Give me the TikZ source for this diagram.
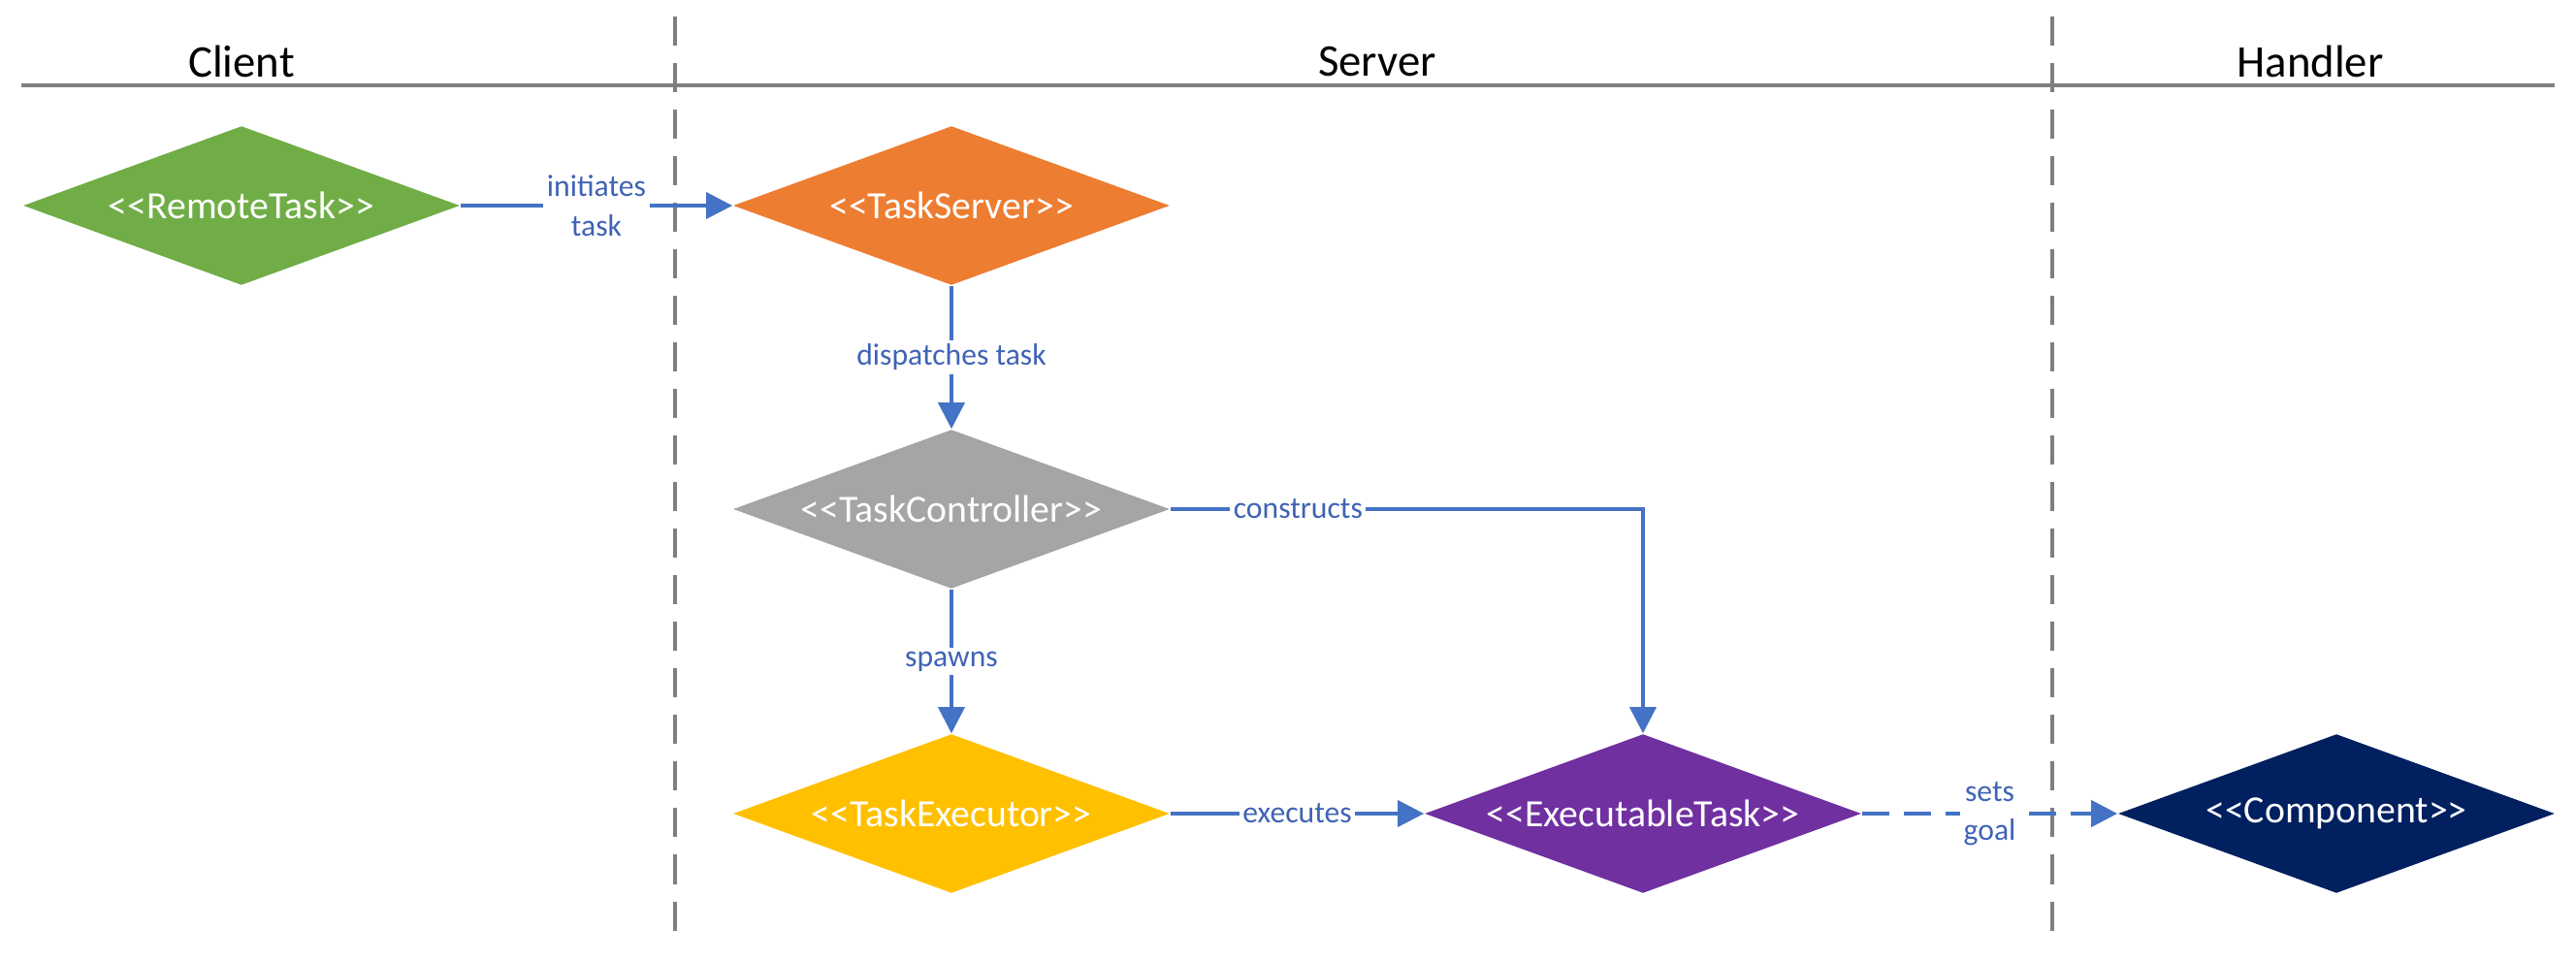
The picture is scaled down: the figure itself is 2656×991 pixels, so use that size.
\documentclass[tikz,border=0pt]{standalone}
\usepackage{fontspec}
\setmainfont{Carlito}
\usetikzlibrary{shapes.geometric,arrows.meta}
\definecolor{rtgreen}{HTML}{70AD47}
\definecolor{tsorange}{HTML}{ED7D31}
\definecolor{tcgray}{HTML}{A5A5A5}
\definecolor{tegold}{HTML}{FFC000}
\definecolor{etpurple}{HTML}{7030A0}
\definecolor{cpnavy}{HTML}{002060}
\definecolor{lineblue}{HTML}{4472C4}
\definecolor{labelblue}{HTML}{3F63B5}
\definecolor{lanegray}{HTML}{7F7F7F}
\newcommand{\stereo}[1]{<\kern0pt<\kern0pt#1\kern0pt>\kern0pt>}
\tikzset{
	cls/.style={diamond, aspect=2.74, minimum width=4.5cm, minimum height=1.64cm, inner sep=0pt, text=white, font=\fontsize{11.3}{13.6}\selectfont},
	flow/.style={draw=lineblue, line width=1pt, -{Triangle[length=0.27cm,width=0.27cm]}},
	lbl/.style={fill=white, text=labelblue, inner sep=1pt, align=center, font=\fontsize{9}{11.5}\selectfont},
	lane/.style={draw=lanegray, line width=1pt, dash pattern=on 0.3cm off 0.18cm},
	lanetitle/.style={font=\fontsize{13.3}{16}\selectfont},
}
\begin{document}
\begin{tikzpicture}[x=0.01cm,y=-0.01cm]
	\useasboundingbox (0,0) rectangle (2656,991);
	% lanes
	\coordinate (L) at (22,88);
	\coordinate (R) at (2634,88);
	\draw [draw=lanegray, line width=1pt] (L) to (R);
	\draw [lane] (696,17) to (696,974);
	\draw [lane] (2116,17) to (2116,974);
	\node[lanetitle] (client) at (249,63) {Client};
	\node[lanetitle] (srv) at (1420,63) {Server};
	\node[lanetitle] (handler) at (2382,63) {Handler};
	% classes
	\node[cls, fill=rtgreen] (remote) at (249,212) {\stereo{RemoteTask}};
	\node[cls, fill=tsorange] (server) at (981,212) {\stereo{TaskServer}};
	\node[cls, fill=tcgray] (controller) at (981,525) {\stereo{TaskController}};
	\node[cls, fill=tegold] (executor) at (981,839) {\stereo{TaskExecutor}};
	\node[cls, fill=etpurple] (exectask) at (1694,839) {\stereo{ExecutableTask}};
	\node[cls, fill=cpnavy] (component) at (2409,839) {\stereo{Component}};
	% relations
	\draw [flow] (remote) to node[lbl] {initiates\\task} (server);
	\draw [flow] (server) to node[lbl] {dispatches task} (controller);
	\draw [flow] (controller.east) -| node[lbl, pos=0.135] {constructs} (exectask.north);
	\draw [flow] (controller) to node[lbl] {spawns} (executor);
	\draw [flow] (executor) to node[lbl] {executes} (exectask);
	\draw [flow, line width=1.2pt, dash pattern=on 0.28cm off 0.15cm] (exectask) to node[lbl] {sets\\goal} (component);
\end{tikzpicture}
\end{document}
